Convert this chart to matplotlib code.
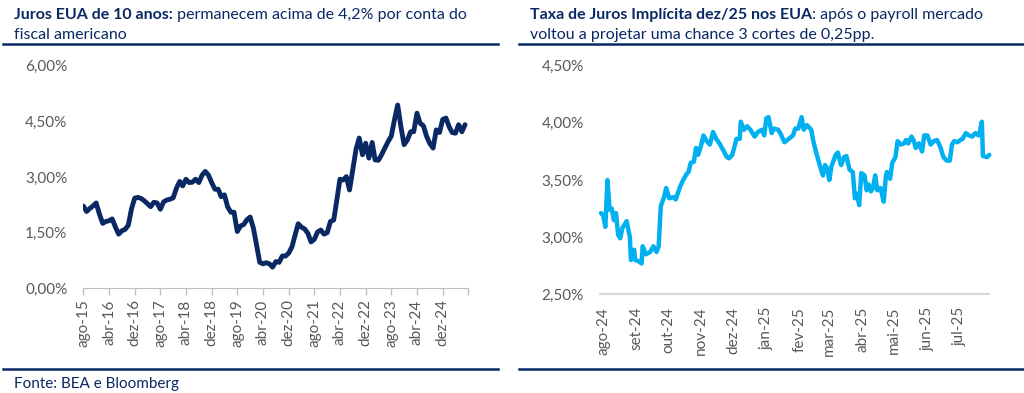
import numpy as np
import pandas as pd
import matplotlib
matplotlib.use("Agg")
import matplotlib.pyplot as plt
import matplotlib.dates as mdates
from matplotlib.ticker import FuncFormatter

# ---- left chart: 10y US yield, monthly, ago-15 .. jul-25
ust10_start = "2015-08-01"
ust10 = [
    2.22, 2.07, 2.15, 2.22, 2.30, 2.00, 1.75, 1.80, 1.82, 1.87, 1.65, 1.46,
    1.55, 1.59, 1.70, 2.15, 2.43, 2.45, 2.42, 2.36, 2.28, 2.20, 2.32, 2.30,
    2.13, 2.33, 2.38, 2.40, 2.44, 2.70, 2.88, 2.76, 2.94, 2.85, 2.86, 2.94,
    2.85, 3.05, 3.15, 3.05, 2.85, 2.67, 2.67, 2.47, 2.52, 2.20, 2.05, 2.05,
    1.53, 1.68, 1.72, 1.85, 1.92, 1.62, 1.15, 0.70, 0.66, 0.69, 0.66, 0.57,
    0.72, 0.70, 0.87, 0.87, 0.95, 1.12, 1.45, 1.74, 1.65, 1.60, 1.48, 1.25,
    1.32, 1.52, 1.57, 1.46, 1.50, 1.80, 1.84, 2.35, 2.94, 2.92, 3.01, 2.65,
    3.20, 3.75, 4.05, 3.60, 3.91, 3.51, 3.93, 3.46, 3.45, 3.60, 3.78, 3.95,
    4.10, 4.55, 4.94, 4.35, 3.87, 4.00, 4.22, 4.22, 4.72, 4.45, 4.38, 4.10,
    3.90, 3.78, 4.27, 4.20, 4.55, 4.59, 4.35, 4.20, 4.18, 4.41, 4.22, 4.41,
]
left_ticks = ["ago-15", "abr-16", "dez-16", "ago-17", "abr-18", "dez-18", "ago-19",
              "abr-20", "dez-20", "ago-21", "abr-22", "dez-22", "ago-23", "abr-24",
              "dez-24", ""]

# ---- right chart: implied Fed funds rate for dez/25
impl_dates = [
    "2024-07-30", "2024-08-01", "2024-08-03", "2024-08-05", "2024-08-07", "2024-08-09",
    "2024-08-11", "2024-08-13", "2024-08-15", "2024-08-17", "2024-08-19", "2024-08-23",
    "2024-08-26", "2024-08-27", "2024-08-30", "2024-08-31", "2024-09-03", "2024-09-06",
    "2024-09-07", "2024-09-10", "2024-09-14", "2024-09-17", "2024-09-20", "2024-09-22",
    "2024-09-24", "2024-09-27", "2024-09-29", "2024-10-02", "2024-10-06", "2024-10-08",
    "2024-10-12", "2024-10-15", "2024-10-18", "2024-10-20", "2024-10-22", "2024-10-25",
    "2024-10-27", "2024-10-29", "2024-11-01", "2024-11-03", "2024-11-06", "2024-11-09",
    "2024-11-12", "2024-11-15", "2024-11-18", "2024-11-21", "2024-11-25", "2024-11-27",
    "2024-11-30", "2024-12-04", "2024-12-07", "2024-12-08", "2024-12-11", "2024-12-14",
    "2024-12-17", "2024-12-21", "2024-12-24", "2024-12-28", "2024-12-30", "2025-01-01",
    "2025-01-03", "2025-01-06", "2025-01-08", "2025-01-12", "2025-01-14", "2025-01-18",
    "2025-01-22", "2025-01-26", "2025-01-28", "2025-01-31", "2025-02-03", "2025-02-05",
    "2025-02-08", "2025-02-12", "2025-02-14", "2025-02-17", "2025-02-20", "2025-02-23",
    "2025-02-25", "2025-02-27", "2025-03-01", "2025-03-03", "2025-03-07", "2025-03-09",
    "2025-03-12", "2025-03-15", "2025-03-17", "2025-03-20", "2025-03-23", "2025-03-25",
    "2025-03-27", "2025-03-29", "2025-03-31", "2025-04-03", "2025-04-05", "2025-04-07",
    "2025-04-09", "2025-04-11", "2025-04-13", "2025-04-15", "2025-04-18", "2025-04-21",
    "2025-04-23", "2025-04-24", "2025-04-27", "2025-04-29", "2025-05-02", "2025-05-04",
    "2025-05-07", "2025-05-10", "2025-05-12", "2025-05-14", "2025-05-17", "2025-05-19",
    "2025-05-21", "2025-05-24", "2025-05-27", "2025-05-29", "2025-06-01", "2025-06-04",
    "2025-06-07", "2025-06-10", "2025-06-13", "2025-06-16", "2025-06-19", "2025-06-22",
    "2025-06-24", "2025-06-26", "2025-06-29", "2025-07-02", "2025-07-04", "2025-07-07",
    "2025-07-10", "2025-07-13", "2025-07-16", "2025-07-19", "2025-07-20", "2025-07-22",
    "2025-07-23", "2025-07-27", "2025-07-29",
]
impl_rate = [
    3.21, 3.19, 3.09, 3.50, 3.24, 3.25,
    3.15, 3.21, 3.02, 2.99, 3.08, 3.14,
    3.00, 2.80, 2.89, 2.80, 2.79, 2.77,
    2.92, 2.85, 2.87, 2.92, 2.87, 2.92,
    3.27, 3.35, 3.43, 3.34, 3.35, 3.33,
    3.44, 3.50, 3.55, 3.57, 3.65, 3.66,
    3.78, 3.72, 3.81, 3.89, 3.84, 3.81,
    3.92, 3.86, 3.82, 3.77, 3.70, 3.69,
    3.72, 3.86, 3.86, 4.01, 3.94, 3.97,
    3.94, 3.88, 3.92, 3.94, 3.89, 4.04,
    4.05, 3.91, 3.95, 3.94, 3.91, 3.83,
    3.86, 3.89, 3.95, 3.95, 4.05, 3.94,
    3.98, 3.94, 3.84, 3.73, 3.63, 3.54,
    3.63, 3.60, 3.50, 3.62, 3.72, 3.74,
    3.63, 3.70, 3.71, 3.59, 3.57, 3.34,
    3.38, 3.28, 3.56, 3.54, 3.41, 3.46,
    3.40, 3.43, 3.54, 3.41, 3.43, 3.31,
    3.53, 3.57, 3.51, 3.65, 3.70, 3.84,
    3.81, 3.82, 3.85, 3.82, 3.88, 3.85,
    3.78, 3.82, 3.75, 3.89, 3.89, 3.81,
    3.84, 3.85, 3.79, 3.70, 3.67, 3.67,
    3.81, 3.84, 3.83, 3.85, 3.86, 3.91,
    3.89, 3.88, 3.91, 3.89, 3.92, 4.01,
    3.71, 3.70, 3.72,
]
right_ticks = ["ago-24", "set-24", "out-24", "nov-24", "dez-24", "jan-25",
               "fev-25", "mar-25", "abr-25", "mai-25", "jun-25", "jul-25"]

NAVY = "#0a2863"
LIGHT = "#00b0f0"
GRAY = "#595959"
FONT = "Lato"

plt.rcParams["font.family"] = FONT

W, H = 1024, 393
fig = plt.figure(figsize=(W / 100, H / 100), dpi=100)


def px(x, y):
    return x / W, 1 - y / H


def pct(v, pos):
    return ("%.2f%%" % v).replace(".", ",")


# ---- titles with bold lead-in
renderer = fig.canvas.get_renderer()


def title(x, y, bold, rest, size=11.5):
    t = fig.text(*px(x, y), bold, fontsize=size, fontweight="bold", color=NAVY, va="baseline")
    bb = t.get_window_extent(renderer)
    fig.text(bb.x1 / W, 1 - y / H, rest, fontsize=size, color=NAVY, va="baseline")


title(14, 19, "Juros EUA de 10 anos:", " permanecem acima de 4,2% por conta do")
fig.text(*px(14, 39), "fiscal americano", fontsize=11.5, color=NAVY, va="baseline")
title(530, 19, "Taxa de Juros Implícita dez/25 nos EUA", ": após o payroll mercado")
fig.text(*px(530, 39), "voltou a projetar uma chance 3 cortes de 0,25pp.", fontsize=11.5,
         color=NAVY, va="baseline")

fig.text(*px(14, 388), "Fonte: BEA e Bloomberg", fontsize=11, color=NAVY, va="baseline")

# separator rules
for (x0, x1) in [(3, 498), (519, 1024)]:
    for y in (43.5, 369):
        fig.add_artist(plt.Line2D([x0 / W, x1 / W], [1 - y / H, 1 - y / H],
                                  color=NAVY, lw=1.8, transform=fig.transFigure))

# ---- left chart
axl = fig.add_axes([83.3 / W, 1 - 288.3 / H, 385 / W, 222.6 / H])
dl = pd.date_range(ust10_start, periods=len(ust10), freq="MS")
axl.plot(dl, ust10, color=NAVY, lw=3.5, solid_joinstyle="round", solid_capstyle="round")
axl.set_ylim(0, 6)
axl.set_yticks([0, 1.5, 3, 4.5, 6])
axl.yaxis.set_major_formatter(FuncFormatter(pct))
lt = pd.date_range(ust10_start, periods=len(left_ticks), freq="8MS")
axl.set_xlim(lt[0], lt[-1])
axl.set_xticks(lt)
axl.set_xticklabels(left_ticks, rotation=90)
for s in ["top", "right", "left"]:
    axl.spines[s].set_visible(False)
axl.spines["bottom"].set_color("#bfbfbf")
axl.tick_params(axis="x", colors="#bfbfbf", length=5, width=1, labelcolor=GRAY,
                labelsize=11, pad=3)
axl.tick_params(axis="y", length=0, labelcolor=GRAY, labelsize=11, pad=11.5)
axl.patch.set_alpha(0)

# ---- right chart
axr = fig.add_axes([600 / W, 1 - 294.3 / H, 389.3 / W, 228.6 / H])
dr = pd.to_datetime(impl_dates)
axr.plot(dr, impl_rate, color=LIGHT, lw=3.2, solid_joinstyle="round", solid_capstyle="round",
         clip_on=False)
axr.set_ylim(2.5, 4.5)
axr.set_yticks([2.5, 3.0, 3.5, 4.0, 4.5])
axr.yaxis.set_major_formatter(FuncFormatter(pct))
rt = pd.date_range("2024-08-01", periods=len(right_ticks), freq="MS")
axr.set_xlim(pd.Timestamp("2024-07-29"), pd.Timestamp("2025-07-29"))
axr.set_xticks(rt)
axr.set_xticklabels(right_ticks, rotation=90)
for s in ["top", "right", "left"]:
    axr.spines[s].set_visible(False)
axr.spines["bottom"].set_color("#d9d9d9")
axr.spines["bottom"].set_linewidth(1.5)
axr.tick_params(axis="x", length=0, labelcolor=GRAY, labelsize=11, pad=9)
axr.tick_params(axis="y", length=0, labelcolor=GRAY, labelsize=11, pad=11.5)
axr.patch.set_alpha(0)

fig.savefig("out.png", dpi=100)
